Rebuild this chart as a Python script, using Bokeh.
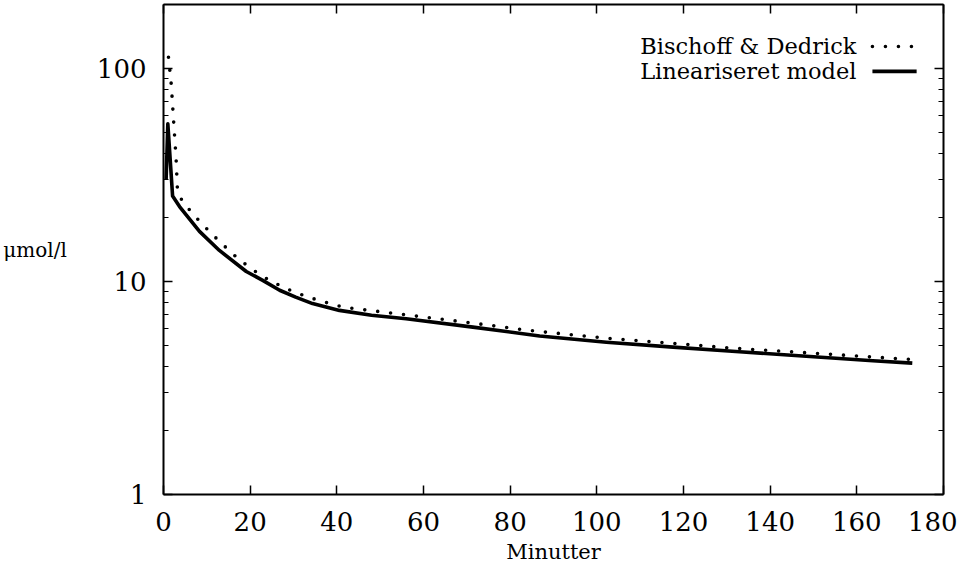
from bokeh.plotting import figure
from bokeh.models import Range1d, FixedTicker, LinearAxis, LogAxis, PrintfTickFormatter, Label
from bokeh.embed import file_html
from bokeh.resources import INLINE

# ---- data ----
model_t = [0.6, 1.0, 2.1, 3.7, 8.3, 12.9, 19.1, 23.0, 26.8, 30.5, 34.4, 40.6, 48.0, 56.0,
           71.4, 86.8, 102.2, 117.6, 132.9, 148.3, 163.7, 172.8]
model_v = [30, 55, 25.2, 22.5, 17.2, 14.0, 11.15, 10.1, 9.1, 8.45, 7.88, 7.32, 6.95, 6.69,
           6.11, 5.55, 5.19, 4.92, 4.68, 4.46, 4.25, 4.14]

bd_t = [1.15, 1.8, 2.3, 2.9, 3.2, 4.3, 8.5, 12.8, 17.4, 22.4, 27.7, 33.2, 39.2, 42.2, 56.0,
        71.4, 84.5, 102.2, 117.6, 131.0, 148.3, 163.7, 172.9]
bd_v = [113, 84, 58, 38, 27.5, 23.8, 19.0, 15.5, 12.7, 10.7, 9.37, 8.47, 7.79, 7.54, 6.98,
        6.38, 5.89, 5.42, 5.13, 4.87, 4.63, 4.42, 4.30]

x_ticks = [0, 20, 40, 60, 80, 100, 120, 140, 160, 180]
y_ticks = [1, 10, 100]
y_minor = [2, 3, 4, 5, 6, 7, 8, 9, 20, 30, 40, 50, 60, 70, 80, 90, 200]

series_names = ["Bischoff & Dedrick", "Lineariseret model"]
x_label = "Minutter"
y_label = "\u03bcmol/l"

FONT = "DejaVu Serif"

p = figure(width=957, height=566, y_axis_type="log",
           x_range=Range1d(0, 180), y_range=Range1d(1, 200),
           output_backend="svg", toolbar_location=None,
           min_border_left=163, min_border_right=14, min_border_top=4, min_border_bottom=71)
p.outline_line_color = None
p.xgrid.visible = False
p.ygrid.visible = False
p.background_fill_color = "white"
p.border_fill_color = "white"

def style_axis(ax, ticker, labels=True):
    ax.ticker = ticker
    ax.axis_line_width = 2
    ax.axis_line_color = "black"
    ax.major_tick_in = 9
    ax.major_tick_out = 0
    ax.minor_tick_in = 5
    ax.minor_tick_out = 0
    ax.major_tick_line_width = 1.5
    ax.minor_tick_line_width = 1.2
    ax.major_tick_line_color = "black"
    ax.minor_tick_line_color = "black"
    if labels:
        ax.major_label_text_font = FONT
        ax.major_label_text_font_size = "26px"
        ax.major_label_text_color = "black"
        ax.formatter = PrintfTickFormatter(format="%d")
        ax.axis_label_text_font = FONT
        ax.axis_label_text_font_style = "normal"
        ax.axis_label_text_color = "black"
        ax.axis_label_text_font_size = "21px"
    else:
        ax.major_label_text_font_size = "1px"
        ax.major_label_text_color = None
        ax.major_label_standoff = 0

xt = FixedTicker(ticks=x_ticks)
yt = FixedTicker(ticks=y_ticks, minor_ticks=y_minor)

xa = p.xaxis[0]
style_axis(xa, xt)
xa.major_label_standoff = 17
xa.axis_label = x_label
xa.axis_label_standoff = 6

ya = p.yaxis[0]
style_axis(ya, yt)
ya.major_label_standoff = 17
ya.axis_label = y_label
ya.axis_label_text_font_size = "20px"
ya.axis_label_standoff = 27
try:
    ya.axis_label_orientation = "horizontal"
except Exception:
    pass

top = LinearAxis()
style_axis(top, FixedTicker(ticks=x_ticks), labels=False)
p.add_layout(top, "above")
right = LogAxis()
style_axis(right, FixedTicker(ticks=y_ticks, minor_ticks=y_minor), labels=False)
p.add_layout(right, "right")

# curves
p.line(bd_t, bd_v, line_color="black", line_width=3.6, line_dash="0 13", line_cap="round")
p.line(model_t, model_v, line_color="black", line_width=3.6, line_join="round")

# legend (text left of key, as in the reference)
leg_y = [127, 97]
p.add_layout(Label(x=159.9, y=leg_y[0], text=series_names[0], text_align="right",
                   text_baseline="middle", text_font=FONT, text_font_size="22.5px",
                   text_color="black"))
p.add_layout(Label(x=159.9, y=leg_y[1], text=series_names[1], text_align="right",
                   text_baseline="middle", text_font=FONT, text_font_size="22.5px",
                   text_color="black"))
p.line([163.6, 173.1], [leg_y[0], leg_y[0]], line_color="black", line_width=3.6,
       line_dash="0 13", line_cap="round")
p.line([163.6, 173.8], [leg_y[1], leg_y[1]], line_color="black", line_width=3.6)

open("out.html", "w").write(file_html(p, INLINE))
